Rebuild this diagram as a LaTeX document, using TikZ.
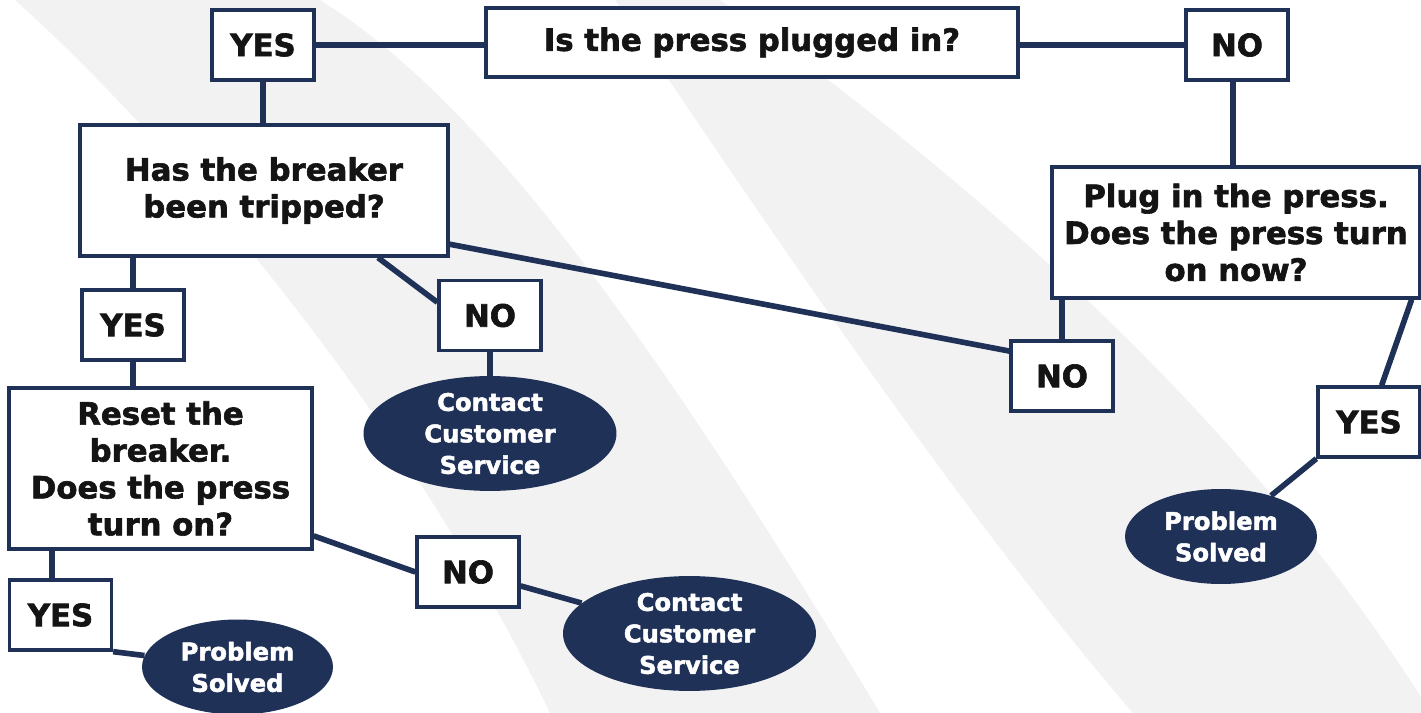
\documentclass[tikz,border=0pt]{standalone}
\usepackage{fontspec}
\setmainfont{DejaVu Sans}[BoldFeatures={FakeBold=2}]
\usetikzlibrary{calc,shapes.geometric}
\definecolor{navy}{RGB}{31,49,87}
\definecolor{band}{RGB}{242,242,242}
\tikzset{
  box/.style={draw=navy, line width=1.9pt, fill=white, inner sep=0pt, align=center,
    font=\fontsize{17.5}{21}\bfseries\selectfont, text=black!92},
  answer/.style={box, minimum width=2.04cm, minimum height=1.4cm},
  result/.style={ellipse, fill=navy, text=white, inner sep=0pt, align=center,
    minimum width=5.06cm, minimum height=2.22cm, font=\fontsize{13.8}{17.9}\bfseries\selectfont},
  link/.style={draw=navy, line width=3.2pt}
}
\begin{document}
\begin{tikzpicture}[x=0.02cm, y=-0.02cm]
  \useasboundingbox (0,0) rectangle (1421,713);
  \fill[white] (0,0) rectangle (1421,713);
  % background swooshes
  \fill[band] (15,0) .. controls (150,120) and (400,400) .. (550,713) -- (880,713)
    .. controls (650,330) and (480,100) .. (320,0) -- cycle;
  \fill[band] (615,0) .. controls (750,200) and (950,500) .. (1133,713) -- (1421,713) -- (1421,697)
    .. controls (1250,430) and (1000,200) .. (720,0) -- cycle;

  \node[box, minimum width=10.64cm, minimum height=1.38cm] (plugged) at (752,42.5) {Is the press plugged in?};
  \node[answer] (yes1) at (263,45) {YES};
  \node[answer] (no1) at (1237,45) {NO};
  \node[box, minimum width=7.36cm, minimum height=2.62cm] (tripped) at (264,190.5) {Has the breaker\\been tripped?};
  \node[box, minimum width=7.36cm, minimum height=2.62cm] (plugin) at (1236,232.5) {Plug in the press.\\Does the press turn\\on now?};
  \node[answer] (yes2) at (133,325) {YES};
  \node[answer] (no2) at (490,315.5) {NO};
  \node[answer] (no3) at (1062,376) {NO};
  \node[answer] (yes3) at (1369,422) {YES};
  \node[box, minimum width=6.06cm, minimum height=3.22cm] (reset) at (160.5,468.5) {Reset the\\breaker.\\Does the press\\turn on?};
  \node[answer] (no4) at (468,572) {NO};
  \node[answer] (yes4) at (60.5,615) {YES};
  \node[result] (contact1) at (490,433.5) {Contact\\Customer\\Service};
  \node[result] (contact2) at (689.5,633.5) {Contact\\Customer\\Service};
  \node[result, minimum width=3.84cm, minimum height=1.9cm] (solved1) at (1221,536.5) {Problem\\Solved};
  \node[result, minimum width=3.82cm, minimum height=1.9cm] (solved2) at (237.5,667) {Problem\\Solved};

  \coordinate (yes4top) at ($(yes4.north west)!0.42!(yes4.north east)$);
  \draw[link] (yes1.east) -- (yes1.east -| plugged.west);
  \draw[link] (no1.west -| plugged.east) -- (no1.west);
  \draw[link] (yes1.south) -- (yes1.south |- tripped.north);
  \draw[link] ([xshift=-0.08cm]no1.south) -- ([xshift=-0.08cm]no1.south |- plugin.north);
  \draw[link] (yes2.north |- tripped.south) -- (yes2.north);
  \draw[link] ($(tripped.south west)!0.807!(tripped.south east)$) -- ($(no2.north west)!0.32!(no2.south west)$);
  \draw[link] ($(tripped.north east)!0.9!(tripped.south east)$) -- ($(no3.north west)!0.16!(no3.south west)$);
  \draw[link] (no3.north |- plugin.south) -- (no3.north);
  \draw[link] ($(plugin.south west)!0.973!(plugin.south east)$) -- ($(yes3.north west)!0.62!(yes3.north east)$);
  \draw[link] (yes3.south west) -- (solved1);
  \draw[link] (no2.south) -- (contact1);
  \draw[link] (yes2.south) -- (yes2.south |- reset.north);
  \draw[link] ($(reset.north east)!0.91!(reset.south east)$) -- (no4.west);
  \draw[link] ($(no4.north east)!0.69!(no4.south east)$) -- (contact2);
  \draw[link] (yes4top) -- (yes4top |- reset.south);
  \draw[link] (yes4.south east) -- (solved2);
\end{tikzpicture}
\end{document}
